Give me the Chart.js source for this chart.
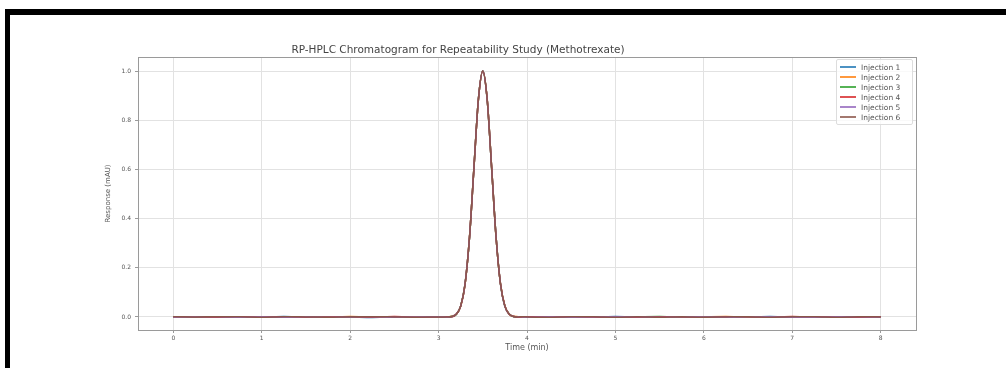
<!DOCTYPE html>
<html>
<head>
<meta charset="utf-8">
<script src="https://cdn.jsdelivr.net/npm/chart.js@4.4.1/dist/chart.umd.min.js"></script>
<style>
  body { margin: 0; background: #fff; width: 1006px; height: 368px; overflow: hidden; position: relative; }
  #chart { position: absolute; left: 0; top: 0; }
  #frame { position: absolute; left: 5px; top: 9px; width: 1001px; height: 359px;
           border-top: 6px solid #000; border-left: 5px solid #000; box-sizing: border-box; pointer-events: none; }
  #legend { position: absolute; left: 836px; top: 59px; width: 77px; padding: 2px 3px;
            border: 1px solid #ddd; border-radius: 2px; background: rgba(255,255,255,0.8);
            font: 7.5px "DejaVu Sans", sans-serif; color: #555; box-sizing: border-box; }
  #legend .row { display: flex; align-items: center; height: 10px; white-space: nowrap; }
  #legend .swatch { width: 16px; height: 2px; margin-right: 5px; flex: none; opacity: 0.8; }
</style>
</head>
<body>
<canvas id="chart" width="1006" height="368"></canvas>
<div id="legend"></div>
<div id="frame"></div>
<script>
// Tiempos (min)
const times = [
  0, 0.25, 0.5, 0.75, 1, 1.25, 1.5, 1.75, 2, 2.25, 2.5, 2.75, 3,
  3.05, 3.1, 3.15, 3.2, 3.25, 3.3, 3.35, 3.4, 3.45, 3.5, 3.55, 3.6, 3.65, 3.7, 3.75, 3.8, 3.85, 3.9, 3.95,
  4, 4.25, 4.5, 4.75, 5, 5.25, 5.5, 5.75, 6, 6.25, 6.5, 6.75, 7, 7.25, 7.5, 7.75, 8
];

const injection1 = [
  0.001, -0.001, 0.001, 0.000, -0.001, 0.002, -0.001, 0.001, 0.000, -0.002, 0.001, 0.001, -0.001,
  0.000, 0.000, 0.002, 0.011, 0.044, 0.135, 0.325, 0.607, 0.883, 1.000, 0.883, 0.607, 0.325, 0.135, 0.044, 0.011, 0.002, 0.000, 0.000,
  0.001, -0.001, 0.001, -0.001, 0.002, 0.000, -0.001, 0.001, 0.001, -0.001, 0.000, 0.002, -0.001, 0.001, 0.000, -0.001, 0.001
];
const injection2 = [
  -0.001, 0.001, 0.000, -0.001, 0.001, 0.000, 0.001, -0.001, 0.002, 0.000, -0.001, 0.001, 0.000,
  0.001, 0.000, 0.003, 0.012, 0.043, 0.134, 0.326, 0.606, 0.882, 0.999, 0.884, 0.608, 0.324, 0.136, 0.045, 0.010, 0.003, 0.001, -0.001,
  0.000, 0.001, -0.001, 0.001, -0.001, 0.001, 0.000, -0.001, 0.001, 0.002, -0.001, 0.000, 0.001, -0.001, 0.001, 0.000, -0.001
];
const injection3 = [
  0.001, 0.000, -0.001, 0.001, 0.001, -0.001, 0.000, 0.001, -0.001, 0.001, 0.000, -0.001, 0.001,
  -0.001, 0.001, 0.002, 0.010, 0.045, 0.136, 0.324, 0.608, 0.884, 1.001, 0.882, 0.606, 0.326, 0.134, 0.043, 0.012, 0.001, 0.000, 0.001,
  -0.001, 0.001, 0.000, 0.001, -0.001, 0.001, 0.002, -0.001, 0.000, 0.001, 0.001, -0.001, 0.000, 0.001, -0.001, 0.001, 0.000
];
const injection4 = [
  0.000, 0.001, -0.001, 0.001, 0.000, 0.001, -0.001, 0.000, 0.001, -0.001, 0.002, -0.001, 0.001,
  0.000, 0.001, 0.001, 0.011, 0.044, 0.135, 0.325, 0.607, 0.883, 1.000, 0.883, 0.607, 0.325, 0.135, 0.044, 0.011, 0.002, -0.001, 0.000,
  0.001, 0.000, 0.001, -0.001, 0.001, -0.001, 0.001, 0.000, -0.001, 0.001, 0.001, -0.001, 0.002, 0.000, 0.001, -0.001, 0.001
];
const injection5 = [
  -0.001, 0.001, 0.001, -0.001, 0.001, -0.001, 0.001, -0.001, 0.000, 0.001, -0.001, 0.000, 0.001,
  0.001, -0.001, 0.002, 0.012, 0.044, 0.136, 0.325, 0.606, 0.883, 1.000, 0.882, 0.607, 0.326, 0.135, 0.043, 0.011, 0.002, 0.001, 0.000,
  -0.001, 0.001, -0.001, 0.000, 0.001, 0.001, -0.001, 0.001, 0.000, -0.001, 0.001, 0.001, -0.001, -0.001, 0.001, 0.001, -0.001
];
const injection6 = [
  0.001, 0.000, 0.001, 0.001, -0.001, 0.001, 0.000, -0.001, 0.001, 0.001, 0.000, -0.001, 0.000,
  0.000, 0.000, 0.002, 0.011, 0.044, 0.135, 0.325, 0.607, 0.883, 1.000, 0.883, 0.607, 0.325, 0.135, 0.044, 0.011, 0.002, 0.000, 0.001,
  0.000, -0.001, 0.001, 0.001, -0.001, 0.001, -0.001, 0.001, -0.001, 0.000, 0.001, -0.001, 0.001, 0.001, -0.001, 0.001, 0.000
];

const seriesNames = ['Injection 1', 'Injection 2', 'Injection 3', 'Injection 4', 'Injection 5', 'Injection 6'];
const seriesValues = [injection1, injection2, injection3, injection4, injection5, injection6];
const seriesColors = ['#1f77b4', '#ff7f0e', '#2ca02c', '#d62728', '#9467bd', '#8c564b'];

const xTicks = [0, 1, 2, 3, 4, 5, 6, 7, 8];
const yTicks = [0.0, 0.2, 0.4, 0.6, 0.8, 1.0];

const textColor = '#555';
const gridColor = '#e2e2e2';

// Marco completo del area de trazado (estilo matplotlib)
const spines = {
  id: 'spines',
  afterDraw(chart) {
    const { ctx, chartArea: a } = chart;
    ctx.save();
    ctx.strokeStyle = '#9a9a9a';
    ctx.lineWidth = 1;
    ctx.strokeRect(a.left + 0.5, a.top + 0.5, a.right - a.left, a.bottom - a.top);
    ctx.restore();
  }
};

const chart = new Chart(document.getElementById('chart'), {
  type: 'line',
  data: {
    datasets: seriesNames.map((name, i) => ({
      label: name,
      data: times.map((t, j) => ({ x: t, y: seriesValues[i][j] })),
      borderColor: seriesColors[i],
      borderWidth: 1.5,
      pointRadius: 0,
      cubicInterpolationMode: 'monotone',
      fill: false,
      // la ultima inyeccion queda encima, como en matplotlib
      order: seriesNames.length - 1 - i
    }))
  },
  options: {
    responsive: false,
    animation: false,
    devicePixelRatio: 1,
    layout: { padding: { left: 0, right: 90, top: 0, bottom: 0 } },
    plugins: {
      legend: { display: false },
      tooltip: { enabled: false },
      title: {
        display: true,
        text: 'RP-HPLC Chromatogram for Repeatability Study (Methotrexate)',
        color: '#444',
        font: { family: 'DejaVu Sans', size: 10.5, weight: 'normal' },
        padding: { top: 44, bottom: 0.4 }
      }
    },
    scales: {
      x: {
        type: 'linear',
        min: -0.4,
        max: 8.4,
        afterBuildTicks: s => { s.ticks = xTicks.map(v => ({ value: v })); },
        afterFit: s => { s.height = 38; },
        ticks: {
          color: textColor,
          font: { family: 'DejaVu Sans', size: 6 },
          padding: 2,
          maxRotation: 0,
          callback: v => String(v)
        },
        grid: { color: gridColor, tickColor: '#9a9a9a', tickLength: 3 },
        border: { display: false },
        title: {
          display: true,
          text: 'Time (min)',
          color: textColor,
          font: { family: 'DejaVu Sans', size: 8 },
          padding: { top: 0, bottom: 15 }
        }
      },
      y: {
        type: 'linear',
        min: -0.053,
        max: 1.057,
        afterBuildTicks: s => { s.ticks = yTicks.map(v => ({ value: v })); },
        afterFit: s => { s.width = 138; },
        ticks: {
          color: textColor,
          font: { family: 'DejaVu Sans', size: 6 },
          padding: 4,
          callback: v => Number(v).toFixed(1)
        },
        grid: { color: gridColor, tickColor: '#9a9a9a', tickLength: 3 },
        border: { display: false },
        title: {
          display: true,
          text: 'Response (mAU)',
          color: textColor,
          font: { family: 'DejaVu Sans', size: 7 },
          padding: { top: 104, bottom: 0 }
        }
      }
    }
  },
  plugins: [spines]
});

// Leyenda HTML construida desde los datasets
const legendEl = document.getElementById('legend');
legendEl.innerHTML = chart.data.datasets.map(d => `
  <div class="row"><span class="swatch" style="background:${d.borderColor}"></span><span>${d.label}</span></div>
`).join('');
</script>
</body>
</html>
